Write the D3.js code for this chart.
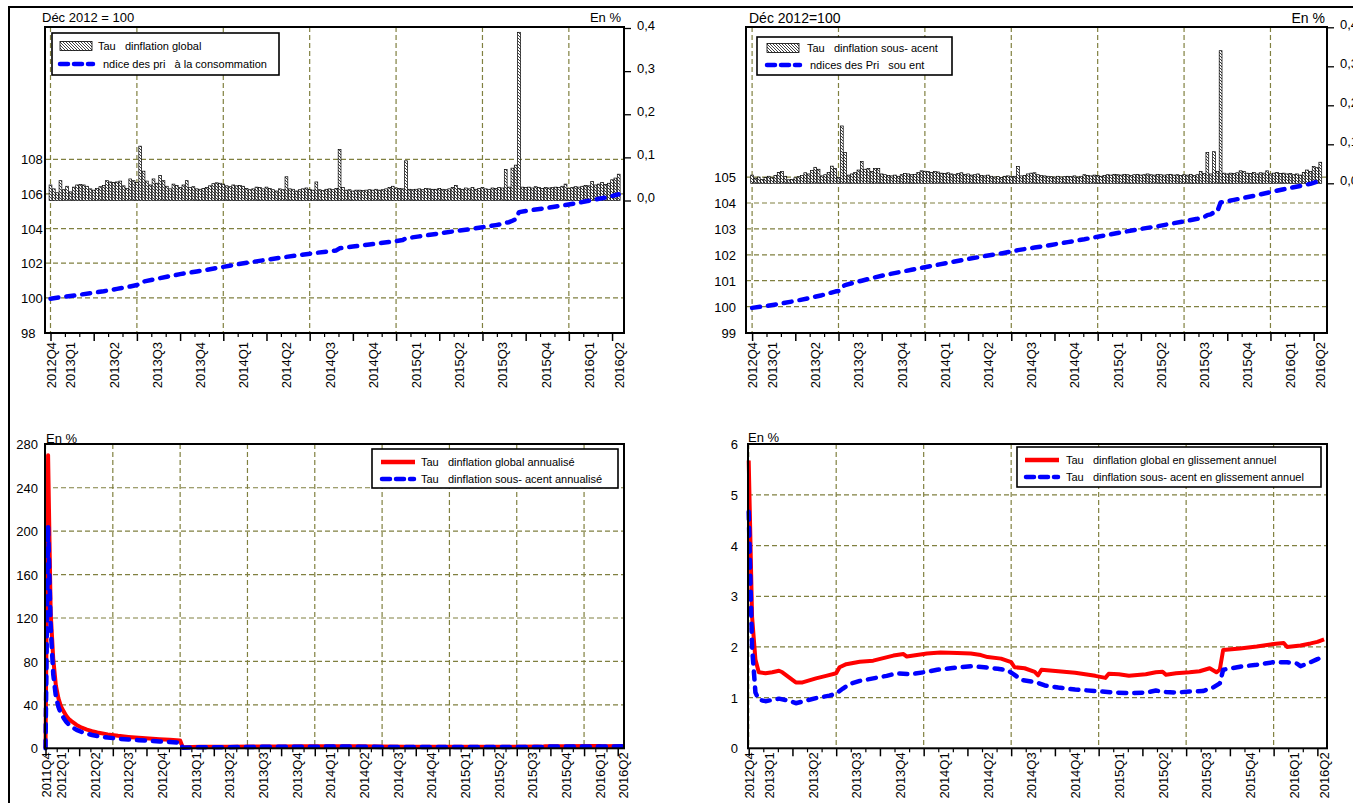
<!DOCTYPE html>
<html><head><meta charset="utf-8">
<script src="https://cdn.jsdelivr.net/npm/d3@7"></script>
<style>
body{margin:0;background:#fff;}
svg{display:block;font-family:"Liberation Sans",Arial,sans-serif;}
text{white-space:pre;}
</style></head><body>
<svg id="chart" width="1353" height="803"></svg>
<script>
// ---------------- DATA ----------------
// Top panels (weekly observations, index 0 = mid-Nov 2012)
const topQuarterLabels = ["2012Q4","2013Q1","2013Q2","2013Q3","2013Q4","2014Q1","2014Q2","2014Q3","2014Q4","2015Q1","2015Q2","2015Q3","2015Q4","2016Q1","2016Q2"];
const topQuarterWeeks = [0,6,19,32,45,58,71,84,97,110,123,136,149,162,171];
// Bottom-left (weekly observations, index 0 = mid-Nov 2011)
const blQuarterLabels = ["2011Q4","2012Q1","2012Q2","2012Q3","2012Q4","2013Q1","2013Q2","2013Q3","2013Q4","2014Q1","2014Q2","2014Q3","2014Q4","2015Q1","2015Q2","2015Q3","2015Q4","2016Q1","2016Q2"];
const blQuarterWeeks = [0,6,19,32,45,58,71,84,97,110,123,136,149,162,175,188,201,214,223];

// Top-left: weekly global inflation rate (%), bars
const globalWeeklyRate = [
.036,.027,.018,.046,.025,.033,.020,.031,.036,.037,
.036,.033,.027,.024,.028,.032,.035,.046,.043,.042,
.043,.045,.034,.028,.050,.046,.042,.126,.068,.045,
.036,.050,.040,.058,.046,.033,.027,.038,.035,.030,
.036,.046,.030,.032,.027,.026,.028,.030,.034,.039,
.041,.040,.038,.034,.032,.036,.034,.035,.033,.028,
.025,.027,.031,.030,.027,.031,.028,.025,.022,.027,
.025,.055,.027,.026,.022,.025,.027,.029,.026,.024,
.043,.025,.023,.026,.027,.025,.028,.118,.030,.024,
.025,.022,.024,.024,.023,.024,.025,.024,.026,.024,
.025,.027,.030,.033,.029,.028,.027,.092,.026,.025,
.026,.027,.025,.028,.027,.026,.026,.028,.026,.025,
.027,.030,.035,.028,.026,.029,.027,.030,.026,.028,
.030,.027,.026,.029,.028,.030,.029,.072,.031,.075,
.082,.390,.031,.030,.031,.029,.032,.030,.028,.030,
.029,.030,.031,.030,.033,.038,.028,.030,.032,.031,
.033,.035,.034,.044,.036,.038,.042,.037,.040,.048,
.052,.061];
// Top-left: consumer price index (Dec 2012 = 100)
const cpiWeeks = [0,4,8,12,16,20,24,26,27,28,31,35,39,44,48,52,56,60,65,70,75,80,86,87,91,96,100,104,106,107,111,116,121,126,130,134,136,137,138,139,140,141,145,150,155,160,165,168,171];
const cpiValues = [99.95,100.06,100.16,100.27,100.38,100.52,100.66,100.74,100.87,100.94,101.06,101.22,101.37,101.52,101.65,101.79,101.93,102.05,102.2,102.34,102.47,102.6,102.74,102.86,102.96,103.08,103.18,103.28,103.34,103.44,103.55,103.69,103.83,103.96,104.08,104.2,104.26,104.34,104.37,104.45,104.54,104.95,105.07,105.21,105.36,105.53,105.72,105.83,105.98];

// Top-right: weekly core inflation rate (%), bars
const coreWeeklyRate = [
.021,.013,.016,.010,.015,.018,.014,.020,.028,.030,
.018,.009,.010,.014,.017,.020,.027,.024,.033,.041,
.036,.019,.022,.028,.044,.038,.015,.147,.079,.021,
.024,.028,.034,.056,.036,.038,.030,.038,.038,.024,
.022,.020,.019,.021,.018,.022,.025,.024,.022,.023,
.028,.032,.031,.030,.028,.030,.029,.026,.025,.027,
.024,.022,.025,.027,.023,.024,.021,.022,.024,.020,
.019,.021,.018,.016,.017,.015,.018,.019,.017,.018,
.043,.019,.020,.024,.026,.027,.022,.020,.019,.018,
.017,.016,.018,.016,.017,.018,.017,.019,.016,.018,
.022,.020,.019,.021,.020,.018,.020,.022,.021,.023,
.022,.021,.023,.022,.020,.022,.023,.021,.022,.024,
.022,.021,.023,.022,.021,.022,.023,.021,.022,.020,
.022,.021,.023,.020,.022,.030,.025,.079,.024,.081,
.030,.340,.026,.024,.026,.025,.027,.032,.030,.026,
.025,.028,.024,.027,.026,.032,.024,.026,.028,.025,
.026,.024,.025,.022,.024,.021,.028,.034,.030,.043,
.040,.054];
// Top-right: core price index (Dec 2012 = 100)
const coreIdxWeeks = [0,4,8,13,17,21,25,26,27,28,30,33,36,40,44,48,52,56,60,65,70,75,80,85,90,95,100,104,110,116,122,126,130,134,136,137,138,139,140,141,145,150,156,160,165,168,171];
const coreIdxValues = [99.95,100.02,100.1,100.22,100.32,100.44,100.58,100.6,100.75,100.83,100.9,101.0,101.1,101.22,101.32,101.42,101.52,101.62,101.72,101.84,101.95,102.05,102.18,102.28,102.38,102.49,102.6,102.7,102.84,102.98,103.1,103.2,103.29,103.39,103.45,103.53,103.56,103.64,103.67,104.02,104.12,104.25,104.42,104.53,104.66,104.74,104.86];

// Bottom-left: annualised inflation (%)
const annWeeks = [0,1,2,3,4,5,6,7,8,9,10,12,14,16,18,20,24,28,32,36,40,44,48,52,53,60,70,80,90,100,110,120,130,140,150,160,170,180,190,192,193,200,210,214,215,223];
const annGlobal = [0,270,125,82,58,46,38.5,34,30,27,25,21.5,19,17.2,15.8,14.6,12.8,11.5,10.5,9.7,9.0,8.4,7.9,7.3,1.0,1.45,1.35,1.6,1.75,1.85,1.87,1.82,1.6,1.5,1.42,1.4,1.45,1.48,1.55,1.5,1.95,1.98,2.05,2.08,2.0,2.15];
const annCore = [0,205,112,68,48,38,32,28,24.5,21.8,19.8,17,15,13.5,12.3,11.3,9.9,8.9,8.1,7.5,6.9,6.3,5.8,5.2,0.6,0.95,0.95,1.3,1.4,1.5,1.58,1.55,1.3,1.2,1.12,1.1,1.12,1.12,1.15,1.25,1.55,1.6,1.68,1.7,1.62,1.8];

// Bottom-right: year-on-year inflation (%)
const yoyGlobalWeeks = [0,1,2,3,5,7,9,10,14,16,20,23,26,27,29,33,37,40,43,46,47,50,53,57,62,66,69,71,75,78,79,82,85,86,87,92,97,103,106,107,110,113,118,121,123,124,127,131,134,137,139,140,141,146,151,156,159,160,164,167,169,171];
const yoyGlobal = [5.68,2.6,1.75,1.5,1.48,1.5,1.53,1.5,1.3,1.3,1.38,1.43,1.48,1.6,1.66,1.71,1.73,1.78,1.83,1.86,1.81,1.84,1.87,1.89,1.88,1.87,1.84,1.8,1.77,1.7,1.6,1.58,1.51,1.44,1.55,1.52,1.49,1.43,1.39,1.47,1.46,1.43,1.46,1.5,1.51,1.45,1.48,1.5,1.52,1.58,1.5,1.55,1.94,1.97,2.01,2.06,2.08,2.0,2.03,2.07,2.1,2.15];
const yoyCoreWeeks = [0,1,2,3,5,9,12,14,17,20,24,26,28,30,33,37,41,44,48,52,56,60,66,70,74,77,79,81,84,86,88,92,97,103,109,114,118,121,124,127,131,135,138,140,141,146,151,156,160,163,164,167,169,171];
const yoyCore = [4.67,2.0,1.1,0.96,0.93,0.98,0.94,0.89,0.94,0.99,1.04,1.08,1.18,1.27,1.33,1.38,1.43,1.48,1.46,1.5,1.55,1.58,1.62,1.6,1.57,1.54,1.45,1.35,1.32,1.29,1.24,1.2,1.16,1.13,1.1,1.09,1.1,1.14,1.11,1.1,1.12,1.13,1.2,1.28,1.55,1.61,1.65,1.7,1.7,1.67,1.62,1.7,1.76,1.81];

// Axis tick values
const tlLeftTicks = [98,100,102,104,106,108];
const trLeftTicks = [99,100,101,102,103,104,105];
const rightTicks = [0,0.1,0.2,0.3,0.4];
const blTicks = [0,40,80,120,160,200,240,280];
const brTicks = [0,1,2,3,4,5,6];

// ---------------- DRAWING ----------------
const W = 1353, H = 803;
const GRID = "#808040";
const svg = d3.select("#chart");
const defs = svg.append("defs");
const pat = defs.append("pattern").attr("id","hatch").attr("patternUnits","userSpaceOnUse").attr("width",3).attr("height",3);
pat.append("rect").attr("width",3).attr("height",3).attr("fill","#fff");
pat.append("path").attr("d","M0,0L3,3M-1,2L1,4M2,-1L4,1").attr("stroke","#000").attr("stroke-width",0.75);

svg.append("rect").attr("width",W).attr("height",H).attr("fill","#fff");
// outer frame
svg.append("path").attr("d",`M9,${H+5}V7H${W+5}`).attr("fill","none").attr("stroke","#000").attr("stroke-width",2);

const commaFmt = d => d3.format(".1f")(d).replace(".", ",");

function vGrid(g, x, n, y0, y1){
  g.append("g").selectAll("line").data(d3.range(0, n, 26)).join("line")
    .attr("x1", d=>x(d)).attr("x2", d=>x(d)).attr("y1", y0).attr("y2", y1)
    .attr("stroke", GRID).attr("stroke-width", 1.2).attr("stroke-dasharray", "5,3");
}
function hGrid(g, y, vals, x0, x1){
  g.append("g").selectAll("line").data(vals).join("line")
    .attr("x1", x0).attr("x2", x1).attr("y1", d=>y(d)).attr("y2", d=>y(d))
    .attr("stroke", GRID).attr("stroke-width", 1.2).attr("stroke-dasharray", "5,3");
}
function border(g, p){
  g.append("rect").attr("x",p.x0).attr("y",p.y0).attr("width",p.x1-p.x0).attr("height",p.y1-p.y0)
    .attr("fill","none").attr("stroke","#000").attr("stroke-width",2);
}
function xAxis(g, x, n, yA, labels, weeks, labelGap){
  const all = d3.range(0, n - 0.5, 13/3);
  const major = all.filter((d,i)=> i % 3 === 0);
  const minor = all.filter((d,i)=> i % 3 !== 0);
  const gM = g.append("g").attr("transform",`translate(0,${yA})`)
    .call(d3.axisBottom(x).tickValues(major).tickSize(8).tickFormat(""));
  gM.select(".domain").remove();
  gM.selectAll("line").attr("stroke","#000").attr("stroke-width",1.5);
  const gm = g.append("g").attr("transform",`translate(0,${yA})`)
    .call(d3.axisBottom(x).tickValues(minor).tickSize(4).tickFormat(""));
  gm.select(".domain").remove();
  gm.selectAll("line").attr("stroke","#000").attr("stroke-width",1.2);
  const gl = g.append("g").attr("transform",`translate(0,${yA})`)
    .call(d3.axisBottom(x).tickValues(weeks).tickSize(0).tickFormat((d,i)=>labels[i]));
  gl.select(".domain").remove();
  gl.selectAll("text").attr("font-size",13).attr("fill","#000").attr("font-family",null)
    .attr("text-anchor","end").attr("dy",null).attr("y",0)
    .attr("dominant-baseline","central")
    .attr("transform",`translate(0,${labelGap}) rotate(-90)`);
}
function leftLabels(g, y, vals, xPos, anchor, fmt){
  const ga = g.append("g").attr("transform",`translate(${xPos},0)`)
    .call(d3.axisLeft(y).tickValues(vals).tickSize(0).tickPadding(0).tickFormat(fmt || d3.format("d")));
  ga.select(".domain").remove();
  ga.selectAll("text").attr("font-size",13).attr("fill","#000").attr("font-family",null)
    .attr("text-anchor",anchor).attr("x",0).attr("dy","0.35em");
}
function rightAxis(g, y, xPos){
  const ga = g.append("g").attr("transform",`translate(${xPos},0)`)
    .call(d3.axisRight(y).tickValues(rightTicks).tickSize(7).tickPadding(6).tickFormat(commaFmt));
  ga.select(".domain").remove();
  ga.selectAll("line").attr("stroke","#000").attr("stroke-width",1.3);
  ga.selectAll("text").attr("font-size",13).attr("fill","#000").attr("font-family",null).attr("dy","0.1em");
}
function bars(g, x, y, vals){
  const bw = 2.8;
  g.append("g").selectAll("rect").data(vals).join("rect")
    .attr("x",(d,i)=>x(i)-bw/2).attr("y",d=>y(d)).attr("width",bw).attr("height",d=>y(0)-y(d))
    .attr("fill","url(#hatch)").attr("stroke","#000").attr("stroke-width",0.7);
}
function blueDash(g, x, y, wk, vals){
  g.append("path").datum(d3.zip(wk, vals))
    .attr("d", d3.line().x(d=>x(d[0])).y(d=>y(d[1])))
    .attr("fill","none").attr("stroke","#0000ff").attr("stroke-width",4.5)
    .attr("stroke-dasharray","8,8").attr("stroke-linecap","round").attr("stroke-linejoin","round");
}
function redSolid(g, x, y, wk, vals){
  g.append("path").datum(d3.zip(wk, vals))
    .attr("d", d3.line().x(d=>x(d[0])).y(d=>y(d[1])))
    .attr("fill","none").attr("stroke","#ff0000").attr("stroke-width",4)
    .attr("stroke-linejoin","round");
}
function legend(g, box, items){
  g.append("rect").attr("x",box.x).attr("y",box.y).attr("width",box.w).attr("height",box.h)
    .attr("fill","#fff").attr("stroke","#000").attr("stroke-width",1.6);
  items.forEach(it=>{
    if(it.type==="hatch"){
      g.append("rect").attr("x",it.sx0).attr("y",it.y-4.5).attr("width",it.sx1-it.sx0).attr("height",9)
        .attr("fill","url(#hatch)").attr("stroke","#000").attr("stroke-width",0.8);
    } else {
      g.append("line").attr("x1",it.sx0).attr("x2",it.sx1).attr("y1",it.y).attr("y2",it.y)
        .attr("stroke",it.color).attr("stroke-width",4.5)
        .attr("stroke-dasharray",it.dash||null).attr("stroke-linecap",it.dash?"round":"butt");
    }
    g.append("text").attr("x",it.tx).attr("y",it.y).attr("dy","0.35em")
      .attr("font-size",11).attr("fill","#000").text(it.text);
  });
}
function title(g, x, y, txt, anchor, size){
  g.append("text").attr("x",x).attr("y",y).attr("dy","0.35em").attr("text-anchor",anchor||"start")
    .attr("font-size",size||13).attr("fill","#000").text(txt);
}

// ----- Top-left -----
{
  const p = {x0:45, x1:624, y0:27, y1:333};
  const g = svg.append("g");
  const x = d3.scaleLinear().domain([0,171]).range([50.5,618.7]);
  const yL = d3.scaleLinear().domain([98,108]).range([332.5,159.3]);
  const yR = d3.scaleLinear().domain([0,0.4]).range([200.5,28]);
  vGrid(g, x, 172, p.y0, p.y1);
  hGrid(g, yL, tlLeftTicks.slice(1), p.x0, p.x1);
  bars(g, x, yR, globalWeeklyRate);
  blueDash(g, x, yL, cpiWeeks, cpiValues);
  border(g, p);
  xAxis(g, x, 172, p.y1, topQuarterLabels, topQuarterWeeks, 9);
  leftLabels(g, yL, tlLeftTicks, 21, "start");
  rightAxis(g, yR, p.x1);
  title(g, 42, 17, "Déc 2012 = 100");
  title(g, 621, 17, "En %", "end");
  legend(g, {x:52,y:33,w:227,h:42}, [
    {type:"hatch", sx0:60, sx1:92, y:46, tx:98, text:"Tau   dinflation global"},
    {type:"line", color:"#0000ff", dash:"8,6", sx0:60, sx1:93, y:64, tx:103, text:"ndice des pri   à la consommation"}
  ]);
}
// ----- Top-right -----
{
  const p = {x0:746, x1:1327, y0:27, y1:333};
  const g = svg.append("g");
  const x = d3.scaleLinear().domain([0,171]).range([752.1,1320.3]);
  const yL = d3.scaleLinear().domain([99,105]).range([332.5,177.1]);
  const yR = d3.scaleLinear().domain([0,0.4]).range([183.3,27.3]);
  vGrid(g, x, 172, p.y0, p.y1);
  hGrid(g, yL, trLeftTicks.slice(1), p.x0, p.x1);
  bars(g, x, yR, coreWeeklyRate);
  blueDash(g, x, yL, coreIdxWeeks, coreIdxValues);
  border(g, p);
  xAxis(g, x, 172, p.y1, topQuarterLabels, topQuarterWeeks, 9);
  leftLabels(g, yL, trLeftTicks, 736, "end");
  rightAxis(g, yR, p.x1);
  title(g, 749, 18, "Déc 2012=100", "start", 14);
  title(g, 1325, 18, "En %", "end", 14);
  legend(g, {x:757,y:37,w:195,h:38}, [
    {type:"hatch", sx0:767, sx1:799, y:48, tx:807, text:"Tau   dinflation sous- acent"},
    {type:"line", color:"#0000ff", dash:"8,6", sx0:767, sx1:800, y:65, tx:810, text:"ndices des Pri   sou ent"}
  ]);
}
// ----- Bottom-left -----
{
  const p = {x0:45, x1:624, y0:444, y1:748.3};
  const g = svg.append("g");
  const x = d3.scaleLinear().domain([0,223]).range([45.5,622.9]);
  const y = d3.scaleLinear().domain([0,280]).range([748.3,444.3]);
  vGrid(g, x, 224, p.y0, p.y1);
  hGrid(g, y, blTicks.slice(1,-1), p.x0, p.x1);
  redSolid(g, x, y, annWeeks, annGlobal);
  blueDash(g, x, y, annWeeks, annCore);
  border(g, p);
  xAxis(g, x, 224, p.y1, blQuarterLabels, blQuarterWeeks, 4);
  leftLabels(g, y, blTicks, 38, "end");
  title(g, 46, 438, "En %");
  legend(g, {x:372,y:449,w:246,h:39}, [
    {type:"line", color:"#ff0000", sx0:381, sx1:415, y:462, tx:421, text:"Tau   dinflation global annualisé"},
    {type:"line", color:"#0000ff", dash:"8,6", sx0:382, sx1:414, y:479, tx:421, text:"Tau   dinflation sous- acent annualisé"}
  ]);
}
// ----- Bottom-right -----
{
  const p = {x0:748, x1:1327, y0:444, y1:748.3};
  const g = svg.append("g");
  const x = d3.scaleLinear().domain([0,171]).range([748.7,1324.1]);
  const y = d3.scaleLinear().domain([0,6]).range([748.3,444.3]);
  vGrid(g, x, 172, p.y0, p.y1);
  hGrid(g, y, brTicks.slice(1,-1), p.x0, p.x1);
  redSolid(g, x, y, yoyGlobalWeeks, yoyGlobal);
  blueDash(g, x, y, yoyCoreWeeks, yoyCore);
  border(g, p);
  xAxis(g, x, 172, p.y1, topQuarterLabels, topQuarterWeeks, 4);
  leftLabels(g, y, brTicks, 738, "end");
  title(g, 748, 437, "En %");
  legend(g, {x:1017,y:447,w:304,h:40}, [
    {type:"line", color:"#ff0000", sx0:1025, sx1:1059, y:460, tx:1066, text:"Tau   dinflation global en glissement annuel"},
    {type:"line", color:"#0000ff", dash:"8,6", sx0:1026, sx1:1058, y:477, tx:1066, text:"Tau   dinflation sous- acent en glissement annuel"}
  ]);
}
</script>
</body></html>
